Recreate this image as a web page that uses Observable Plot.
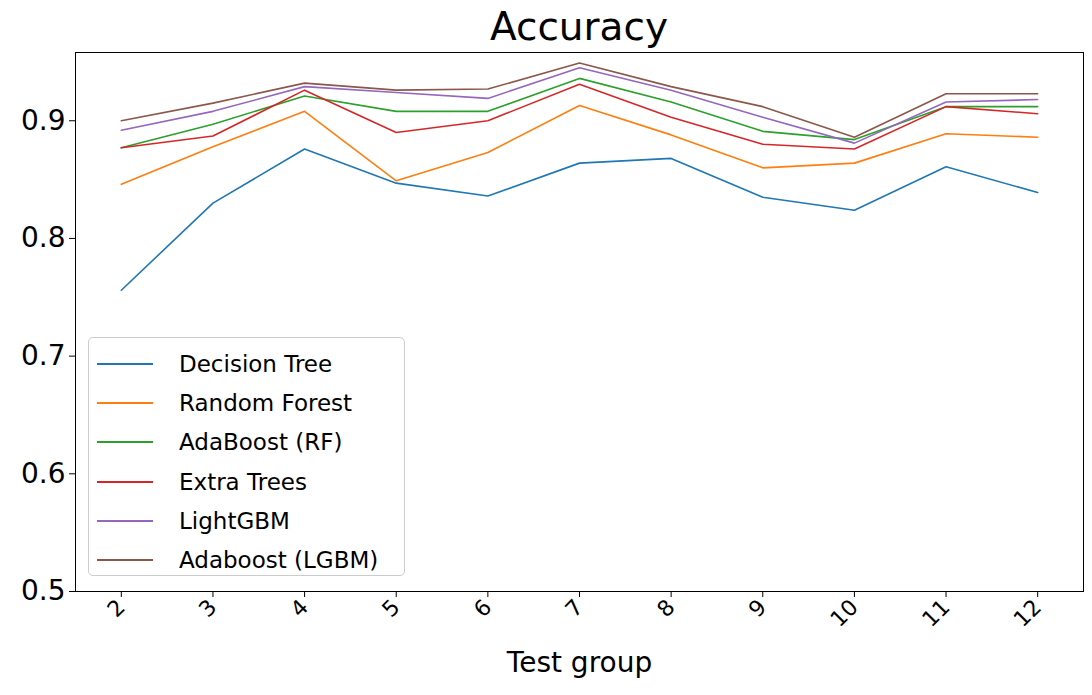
<!DOCTYPE html>
<html><head>
<script src="https://cdn.jsdelivr.net/npm/d3@7"></script>
<script src="https://cdn.jsdelivr.net/npm/@observablehq/plot@0.6"></script>
<style>
body{margin:0;background:#fff;font-family:"DejaVu Sans",sans-serif}
#wrap{position:relative;width:1092px;height:695px}
#title{position:absolute;left:75px;width:1008px;top:4px;text-align:center;font-size:39px}
#legend{position:absolute;left:88px;top:337px;width:317px;height:239px;border:1px solid #ccc;border-radius:5px;background:rgba(255,255,255,0.85);box-sizing:border-box;padding:6px 0 0 8px}
.row{display:flex;align-items:center;height:39.3px;font-size:23px}
.sw{width:56px;height:2px;margin-right:26px}
</style></head>
<body><div id="wrap"><div id="chart"></div><div id="title">Accuracy</div><div id="legend"></div></div>
<script>
const groups = [2,3,4,5,6,7,8,9,10,11,12];
const models = ["Decision Tree","Random Forest","AdaBoost (RF)","Extra Trees","LightGBM","Adaboost (LGBM)"];
const colors = ["#1f77b4","#ff7f0e","#2ca02c","#d62728","#9467bd","#8c564b"];
const decisionTree = [0.756,0.830,0.876,0.847,0.836,0.864,0.868,0.835,0.824,0.861,0.839];
const randomForest = [0.846,0.878,0.908,0.849,0.873,0.913,0.888,0.860,0.864,0.889,0.886];
const adaRF = [0.877,0.897,0.921,0.908,0.908,0.936,0.916,0.891,0.884,0.912,0.912];
const extraTrees = [0.877,0.887,0.926,0.890,0.900,0.931,0.903,0.880,0.876,0.912,0.906];
const lightGBM = [0.892,0.908,0.929,0.924,0.919,0.945,0.926,0.903,0.881,0.916,0.918];
const adaLGBM = [0.900,0.915,0.932,0.926,0.927,0.949,0.929,0.912,0.886,0.923,0.923];
const series = [decisionTree,randomForest,adaRF,extraTrees,lightGBM,adaLGBM];

const data = series.flatMap((s,i) => s.map((v,j) => ({model: models[i], g: groups[j], v})));

const chart = Plot.plot({
  width: 1092, height: 695,
  marginTop: 52, marginBottom: 104, marginLeft: 75, marginRight: 9,
  style: {fontFamily: "DejaVu Sans", background: "white"},
  x: {domain: [1.5, 12.5]},
  y: {domain: [0.5, 0.958]},
  color: {domain: models, range: colors},
  marks: [
    Plot.frame({stroke: "black"}),
    Plot.axisY({ticks: [0.5,0.6,0.7,0.8,0.9], tickFormat: d => d3.format(".1f")(d), fontSize: 28, tickSize: 6, tickPadding: 4, label: null}),
    Plot.axisX({ticks: groups, fontSize: 22, tickSize: 6, tickRotate: -45, textAnchor: "end", tickPadding: 6, label: null}),
    Plot.text(["Test group"], {frameAnchor: "bottom", dy: 80, fontSize: 28, fill: "black"}),
    Plot.line(data, {x: "g", y: "v", z: "model", stroke: "model", strokeWidth: 1.6})
  ]
});
d3.select("#chart").append(() => chart);

const leg = d3.select("#legend");
models.forEach((m,i) => {
  const r = leg.append("div").attr("class","row");
  r.append("div").attr("class","sw").style("background", colors[i]);
  r.append("span").text(m);
});
</script></body></html>
